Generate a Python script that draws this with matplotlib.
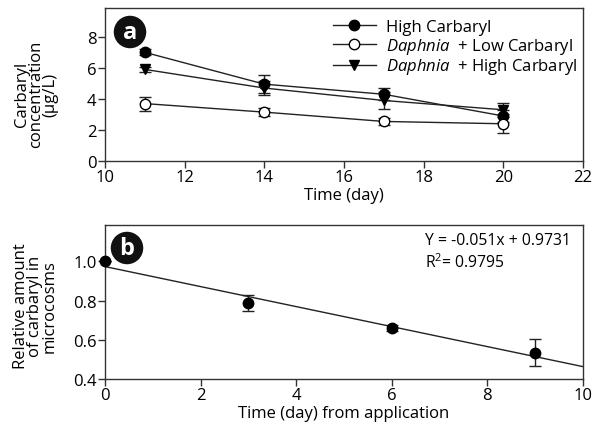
import matplotlib
matplotlib.use("Agg")
import matplotlib.pyplot as plt
from matplotlib.lines import Line2D
import numpy as np

plt.rcParams['font.family'] = ['Open Sans', 'DejaVu Sans']
plt.rcParams['mathtext.fontset'] = 'custom'
plt.rcParams['mathtext.it'] = 'Open Sans:italic'
plt.rcParams['mathtext.rm'] = 'Open Sans'

# Panel a data
days = [11, 14, 17, 20]
high_carb = [7.0, 4.95, 4.3, 2.9]
high_carb_err = [0.2, 0.6, 0.4, 0.4]
daph_low = [3.7, 3.15, 2.55, 2.4]
daph_low_err = [0.45, 0.25, 0.2, 0.6]
daph_high = [5.9, 4.7, 3.9, 3.3]
daph_high_err = [0.15, 0.45, 0.55, 0.45]
labels_a = ['High Carbaryl', r'$\it{Daphnia}$  + Low Carbaryl', r'$\it{Daphnia}$  + High Carbaryl']

# Panel b data
days_b = [0, 3, 6, 9]
rel_amount = [1.0, 0.787, 0.658, 0.535]
rel_err = [0.0, 0.04, 0.015, 0.067]
slope = -0.051
intercept = 0.9731
fit_x = [0, 10]

FS = 12
fig = plt.figure(figsize=(5.94, 4.31), dpi=100)
axa = fig.add_axes([0.1768, 0.624, 0.8047, 0.355])
axb = fig.add_axes([0.1768, 0.1183, 0.8047, 0.3573])

lc = '#222222'
ekw = dict(elinewidth=1, capsize=4, capthick=1, ecolor=lc, lw=1, color=lc)
styles = [dict(marker='o', mfc='black'), dict(marker='o', mfc='white'), dict(marker='v', mfc='black')]
series = [(high_carb, high_carb_err), (daph_low, daph_low_err), (daph_high, daph_high_err)]
handles = []
for (vals, errs), st in zip(series, styles):
    axa.errorbar(days, vals, yerr=errs, ms=7.5, mec='black', **st, **ekw)
    handles.append(Line2D([], [], color=lc, lw=1, ms=7.5, mec='black', **st))

axa.set_xlim(10, 22)
axa.set_ylim(0, 9.85)
axa.set_xticks([10, 12, 14, 16, 18, 20, 22])
axa.set_yticks([0, 2, 4, 6, 8])
axa.set_xlabel('Time (day)', fontsize=FS, labelpad=1)
axa.set_ylabel('Carbaryl\nconcentration\n(μg/L)', fontsize=FS, linespacing=0.85)
axa.yaxis.set_label_coords(-0.098, 0.44)
axa.legend(handles, labels_a, loc='upper right', frameon=False, fontsize=FS, handlelength=2.6,
           labelspacing=0.05, borderaxespad=0.1, handletextpad=0.6,
           bbox_to_anchor=(1.005, 0.985))

axb.errorbar(days_b, rel_amount, yerr=rel_err, marker='o', ms=7.5, mfc='black', mec='black',
             ls='none', elinewidth=1, capsize=4, capthick=1, ecolor=lc, clip_on=False, zorder=5)
fx = np.array(fit_x, dtype=float)
axb.plot(fx, slope * fx + intercept, color=lc, lw=1)
axb.set_xlim(0, 10)
axb.set_ylim(0.4, 1.185)
axb.set_xticks([0, 2, 4, 6, 8, 10])
axb.set_yticks([0.4, 0.6, 0.8, 1.0])
axb.set_yticklabels(['0.4', '0.6', '0.8', '1.0'])
axb.set_xlabel('Time (day) from application', fontsize=FS, labelpad=1)
axb.set_ylabel('Relative amount\nof carbaryl in\nmicrocosms', fontsize=FS, linespacing=0.85)
axb.yaxis.set_label_coords(-0.1, 0.48)
axb.text(0.67, 0.90, 'Y = -0.051x + 0.9731', transform=axb.transAxes, fontsize=11.3,
         va='center', ha='left')
axb.text(0.67, 0.765, r'R$^2$= 0.9795', transform=axb.transAxes, fontsize=11.3, va='center')

for ax in (axa, axb):
    for s in ax.spines.values():
        s.set_linewidth(1)
        s.set_color('#333333')
    ax.tick_params(axis='both', labelsize=FS, length=5, width=1, pad=1, color='#333333',
                   top=False, right=False)

# panel badges
fig.text(130/594, 1 - 33/431, 'a', ha='center', va='center', color='white', fontsize=17,
         fontweight='bold', bbox=dict(boxstyle='circle,pad=0.18', fc='#111111', ec='none'))
fig.text(127/594, 1 - 249/431, 'b', ha='center', va='center', color='white', fontsize=17,
         fontweight='bold', bbox=dict(boxstyle='circle,pad=0.18', fc='#111111', ec='none'))

fig.savefig('out.png', dpi=100)
